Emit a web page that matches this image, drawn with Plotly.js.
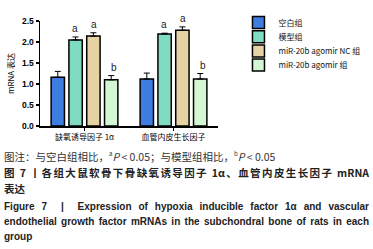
<!DOCTYPE html>
<html><head><meta charset="utf-8">
<script src="https://cdn.plot.ly/plotly-3.0.1.min.js"></script>
<style>
html,body{margin:0;padding:0;background:#fff;width:373px;height:249px;overflow:hidden}
#chart{width:373px;height:146px}
#cap{position:absolute;left:4px;top:146px;width:365px;font-family:"Noto Sans CJK SC","Noto Sans",sans-serif;color:#222}
.l{text-align:justify;text-align-last:justify;white-space:nowrap}
.n{font-size:10.5px;line-height:16px;color:#333}
.b{font-weight:bold;font-size:10.5px;line-height:16px}
.e{font-weight:bold;font-size:10px;line-height:15px;font-family:"Liberation Sans",Arial,sans-serif}
</style></head><body>
<div id="chart"></div>
<div id="cap">
<div class="n">图注：与空白组相比，<sup style="font-size:6px">a</sup><i>P</i> &lt; 0.05；与模型组相比，<sup style="font-size:6px">b</sup><i>P</i> &lt; 0.05</div>
<div class="b l">图 7 丨各组大鼠软骨下骨缺氧诱导因子 1α、血管内皮生长因子 mRNA</div>
<div class="b">表达</div>
<div class="e l" style="margin-top:2px">Figure 7 &nbsp;|&nbsp; Expression of hypoxia inducible factor 1α and vascular</div>
<div class="e l">endothelial growth factor mRNAs in the subchondral bone of rats in each</div>
<div class="e">group</div>
</div>
<script>
const categories = ["缺氧诱导因子 1α", "血管内皮生长因子"];
const seriesNames = ["空白组", "模型组", "miR-20b agomir NC 组", "miR-20b agomir 组"];
const blank = [1.16, 1.12];
const model = [2.05, 2.19];
const nc = [2.14, 2.28];
const agomir = [1.10, 1.12];
const blankErr = [0.14, 0.14];
const modelErr = [0.07, 0.02];
const ncErr = [0.08, 0.08];
const agomirErr = [0.10, 0.13];
const marks = [["", ""], ["a", "a"], ["a", "a"], ["b", "b"]];

const values = [blank, model, nc, agomir];
const errs = [blankErr, modelErr, ncErr, agomirErr];
const colors = ["#3d7de0", "#7fdcc0", "#e6d3a3", "#d2f7d2"];
const shifts = [-29, -9.7, 9.7, 29];
const legendIds = ["legend", "legend2", "legend3", "legend4"];
const legendY = [0.985, 0.85, 0.715, 0.58];

const traces = values.map((v, i) => ({
  type: "bar", name: seriesNames[i], x: categories, y: v, legend: legendIds[i],
  marker: {color: colors[i], line: {color: "#000", width: 1.5}},
  error_y: {type: "data", symmetric: false, array: errs[i], arrayminus: v.map(() => 0),
            color: "#000", thickness: 1, width: 3}
}));

const annotations = [];
values.forEach((v, i) => v.forEach((val, j) => {
  if (marks[i][j]) annotations.push({
    x: categories[j], y: val + errs[i][j], xref: "x", yref: "y", xshift: shifts[i],
    text: marks[i][j], showarrow: false, yanchor: "bottom", yshift: 1,
    font: {family: "Liberation Sans, Arial", size: 10, color: "#222"}
  });
}));

const layout = {
  width: 373, height: 146,
  margin: {l: 40, r: 151, t: 8, b: 20},
  paper_bgcolor: "#fff", plot_bgcolor: "#fff",
  barmode: "group", bargap: 0.2, bargroupgap: 0.25,
  showlegend: true,
  xaxis: {showline: true, linecolor: "#000", linewidth: 1.5, ticks: "outside", ticklen: 3,
          tickcolor: "#000", tickwidth: 1.2,
          tickfont: {family: "Noto Sans CJK SC", size: 8, color: "#000"}},
  yaxis: {range: [0, 2.5], dtick: 0.5, tickformat: ".1f", showline: true, linecolor: "#000",
          linewidth: 1.5, ticks: "outside", ticklen: 3, tickcolor: "#000", tickwidth: 1.2,
          showgrid: false, zeroline: false,
          tickfont: {family: "Liberation Sans, Arial", size: 8.5, color: "#000", weight: "bold"},
          title: {text: "mRNA 表达", standoff: 6,
                  font: {family: "Noto Sans CJK SC", size: 8, color: "#000"}}},
  annotations: annotations
};
legendIds.forEach((id, i) => {
  layout[id] = {x: 1.115, y: legendY[i], xanchor: "left", yanchor: "middle",
    bgcolor: "rgba(0,0,0,0)", itemwidth: 30,
    font: {family: "Noto Sans CJK SC, Liberation Sans", size: 8, color: "#111"}};
});
Plotly.newPlot("chart", traces, layout, {displayModeBar: false, staticPlot: true});
</script>
</body></html>
